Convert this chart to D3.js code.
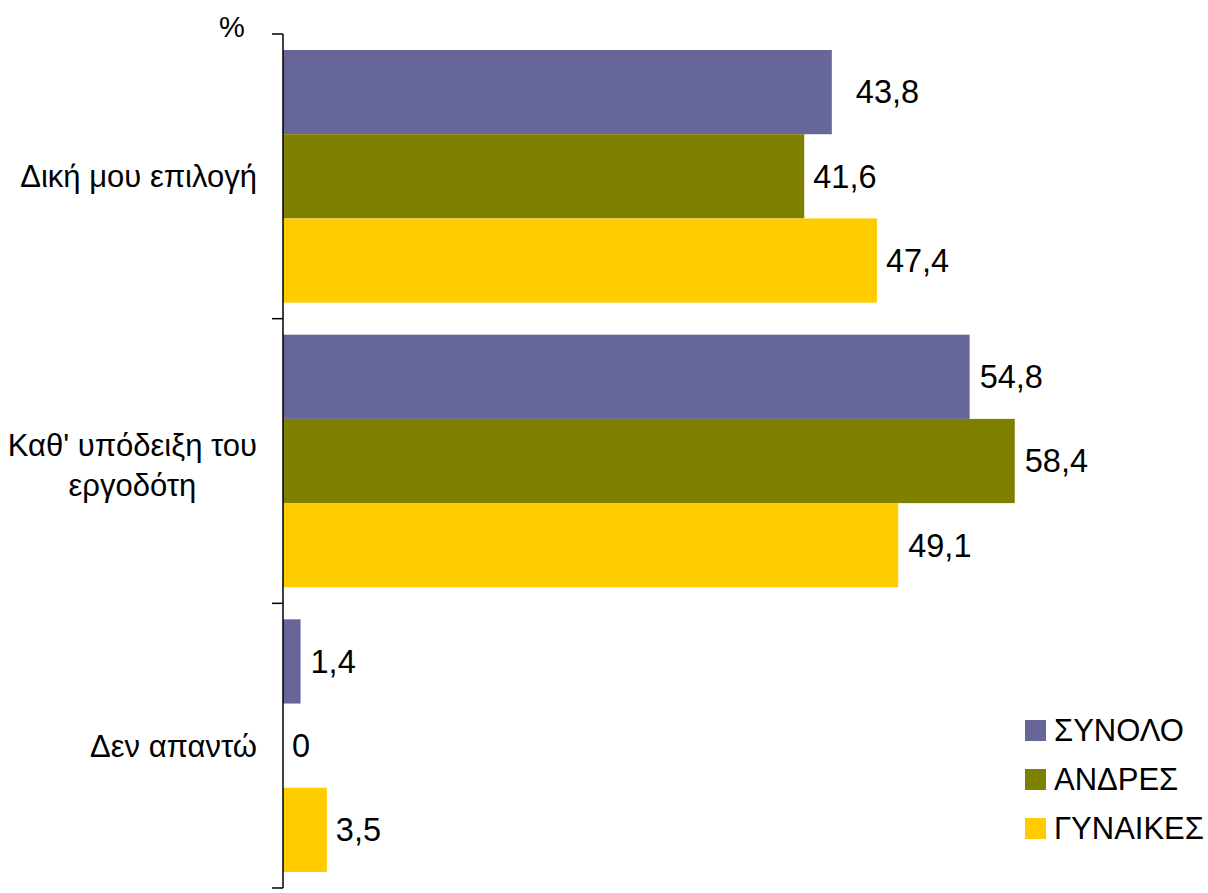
<!DOCTYPE html>
<html>
<head>
<meta charset="utf-8">
<script src="https://cdn.jsdelivr.net/npm/d3@7"></script>
<style>
  html, body { margin: 0; padding: 0; background: #ffffff; }
  svg { display: block; }
  text { font-family: Arial, "Liberation Sans", sans-serif; fill: #000; }
</style>
</head>
<body>
<svg id="chart" width="1208" height="893"></svg>
<script>
const categories = ["Δική μου επιλογή", "Καθ' υπόδειξη του εργοδότη", "Δεν απαντώ"];
const categoryLines = [["Δική μου επιλογή"], ["Καθ' υπόδειξη του", "εργοδότη"], ["Δεν απαντώ"]];
const seriesNames = ["ΣΥΝΟΛΟ", "ΑΝΔΡΕΣ", "ΓΥΝΑΙΚΕΣ"];
const synolo = [43.8, 54.8, 1.4];
const andres = [41.6, 58.4, 0];
const gynaikes = [47.4, 49.1, 3.5];
const seriesColors = ["#666699", "#808000", "#FFCC00"];
const unitLabel = "%";

// label gap (styling) per series, per category
const labelGaps = [[24, 10, 10], [9, 10, 9], [9, 10, 9]];

const seriesValues = [synolo, andres, gynaikes];
const data = categories.map((c, i) => ({
  cat: c,
  values: seriesNames.map((s, j) => ({ series: s, value: seriesValues[j][i], gap: labelGaps[j][i] }))
}));

const svg = d3.select("#chart");
const fontSize = 31;
const valueFontSize = 32.5;

const x0 = 283, yTop = 34, yBot = 888;
const x = d3.scaleLinear().domain([0, 70]).range([x0, x0 + 70 * 12.53]);
const y0 = d3.scaleBand().domain(categories).range([yTop, yBot]).padding(0);
const y1 = d3.scaleBand().domain(seriesNames).range([0, y0.bandwidth()])
  .paddingInner(0).paddingOuter(0.19);
const color = d3.scaleOrdinal().domain(seriesNames).range(seriesColors);

// bars
const groups = svg.append("g").selectAll("g").data(data).join("g")
  .attr("transform", d => `translate(0,${y0(d.cat)})`);

groups.selectAll("rect").data(d => d.values).join("rect")
  .attr("x", x(0))
  .attr("y", d => y1(d.series))
  .attr("width", d => x(d.value) - x(0))
  .attr("height", y1.bandwidth())
  .attr("fill", d => color(d.series));

groups.selectAll("text.val").data(d => d.values).join("text")
  .attr("class", "val")
  .attr("x", d => x(d.value) + d.gap)
  .attr("y", d => y1(d.series) + y1.bandwidth() / 2)
  .attr("dy", "0.35em")
  .attr("font-size", valueFontSize)
  .text(d => d3.format(".1f")(d.value).replace(".", ",").replace(/,0$/, ""));

// axis (ticks at category boundaries)
const tickPositions = categories.map(c => y0(c)).concat([yBot]);
const axis = svg.append("g").attr("stroke", "#000").attr("stroke-width", 1.5);
axis.append("line").attr("x1", x0).attr("x2", x0).attr("y1", yTop).attr("y2", yBot);
axis.selectAll("line.tick").data(tickPositions).join("line")
  .attr("class", "tick")
  .attr("x1", x0 - 11).attr("x2", x0)
  .attr("y1", d => d).attr("y2", d => d);

// category labels
const labelRight = 257;
const lineH = 40;
categories.forEach((c, i) => {
  const lines = categoryLines[i];
  const cy = y0(c) + y0.bandwidth() / 2 + (lines.length > 1 ? 4 : 0);
  const t = svg.append("text").attr("font-size", fontSize).attr("text-anchor", "middle");
  lines.forEach((ln, k) => {
    t.append("tspan")
      .attr("y", cy + (k - (lines.length - 1) / 2) * lineH)
      .attr("dy", "0.35em")
      .text(ln);
  });
  const w = d3.max(t.selectAll("tspan").nodes(), n => n.getComputedTextLength());
  t.selectAll("tspan").attr("x", labelRight - w / 2);
});

// unit label
svg.append("text").attr("x", 232).attr("y", 37).attr("text-anchor", "middle")
  .attr("font-size", fontSize - 2).text(unitLabel);

// legend
const legend = svg.append("g").selectAll("g").data(seriesNames).join("g")
  .attr("transform", (d, i) => `translate(1025,${720 + i * 49})`);
legend.append("rect").attr("width", 21).attr("height", 21).attr("fill", d => color(d));
legend.append("text").attr("x", 29).attr("y", 10.5).attr("dy", "0.35em")
  .attr("font-size", fontSize).text(d => d);
</script>
</body>
</html>
